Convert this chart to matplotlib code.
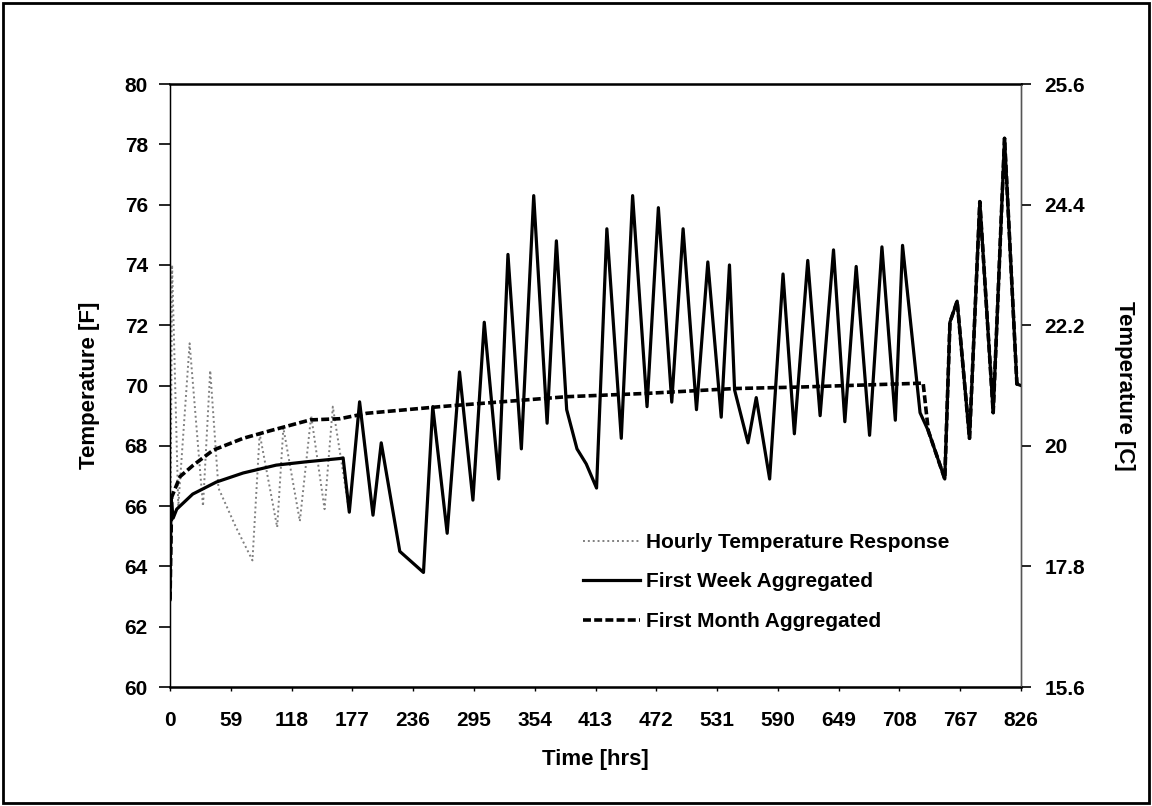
import matplotlib
matplotlib.use("Agg")
import matplotlib.pyplot as plt
from matplotlib.patches import Rectangle

plt.rcParams['font.family'] = ['Liberation Sans', 'DejaVu Sans']

# hourly response during the first week (hrs, degF)
first_week_t = [0, 2, 8, 19, 32, 39, 47, 64, 80, 87, 104, 110, 126, 137, 150, 158]
first_week_f = [62.9, 74.0, 66.0, 71.4, 66.0, 70.5, 66.6, 65.3, 64.2, 68.4, 65.3, 68.6, 65.5, 69.0, 65.9, 69.3]

# smooth first-week aggregated curve
week_t = [0, 1, 3, 6.5, 22, 45, 71, 103, 132, 165, 168]
week_f = [62.9, 66.3, 65.6, 65.9, 66.4, 66.8, 67.1, 67.36, 67.47, 67.58, 67.6]

# smooth first-month aggregated curve
month_t = [0, 1.6, 9.7, 22.6, 42, 71, 97, 136, 165, 191, 262, 385, 463, 547, 611, 731]
month_f = [62.9, 66.3, 66.98, 67.36, 67.86, 68.25, 68.5, 68.86, 68.9, 69.08, 69.3, 69.63, 69.74, 69.9, 69.95, 70.08]

# hourly response after the first week (shared by all curves once aggregation ends)
later_t = [174, 184, 197, 205, 223, 246, 255, 269, 281, 294, 305, 319, 328, 341, 353, 366,
           375, 385, 395, 404, 414, 424, 438, 449, 463, 474, 487, 498, 511, 522, 535, 543,
           548, 561, 569, 582, 595, 606, 619, 631, 644, 655, 666, 679, 691, 704, 711, 728,
           736, 752, 757, 764, 776, 786, 799, 810, 822, 826]
later_f = [65.8, 69.46, 65.7, 68.1, 64.5, 63.8, 69.3, 65.1, 70.45, 66.2, 72.1, 66.9, 74.35, 67.9, 76.3, 68.75,
           74.8, 69.2, 67.9, 67.4, 66.6, 75.2, 68.25, 76.3, 69.3, 75.9, 69.45, 75.2, 69.2, 74.1, 68.95, 74.0,
           69.85, 68.1, 69.6, 66.9, 73.7, 68.4, 74.15, 69.0, 74.5, 68.8, 73.95, 68.35, 74.6, 68.85, 74.65, 69.1,
           68.5, 66.9, 72.1, 72.8, 68.25, 76.1, 69.1, 78.2, 70.05, 70.0]

x_ticks = list(range(0, 827, 59))
f_ticks = list(range(60, 81, 2))
c_tick_f = [60, 64, 68, 72, 76, 80]
c_labels = ["15.6", "17.8", "20", "22.2", "24.4", "25.6"]

labels = ["Hourly Temperature Response", "First Week Aggregated", "First Month Aggregated"]


def to_c(f):
    return (f - 32) * 5 / 9


hourly_t = first_week_t + later_t
hourly_f = first_week_f + later_f
wk_t = week_t + later_t
wk_f = week_f + later_f
mo_t = month_t + [t for t in later_t if t >= 736]
mo_f = month_f + [f for t, f in zip(later_t, later_f) if t >= 736]

fig = plt.figure(figsize=(11.52, 8.06), dpi=100)
ax = fig.add_axes([0.1476, 0.1476, 0.7387, 0.7481])

ax.plot(hourly_t, hourly_f, color='#808080', lw=1.4, ls=(0, (1, 1.5)), label=labels[0], zorder=2)
ax.plot(wk_t, wk_f, color='black', lw=2.3, label=labels[1], zorder=3)
ax.plot(mo_t, mo_f, color='black', lw=2.6, ls=(0, (2.2, 0.9)), label=labels[2], zorder=4)

ax.set_xlim(0, 826)
ax.set_ylim(60, 80)
ax.set_xticks(x_ticks)
ax.set_yticks(f_ticks)
ax.tick_params(axis='x', direction='out', length=3, width=1, pad=14, labelsize=15)
ax.tick_params(axis='y', direction='out', length=8, width=1.2, pad=8, labelsize=15)
for t in ax.get_xticklabels() + ax.get_yticklabels():
    t.set_fontweight('bold')

ax.set_xlabel("Time [hrs]", fontsize=16, fontweight='bold', labelpad=14)
ax.set_ylabel("Temperature [F]", fontsize=16, fontweight='bold', labelpad=18)

for side, lw in [('top', 1.8), ('bottom', 1.8), ('left', 1.0), ('right', 1.0)]:
    ax.spines[side].set_linewidth(lw)
    ax.spines[side].set_color('black')

ax2 = ax.twinx()
ax2.set_ylim(to_c(60), to_c(80))
ax2.set_yticks([to_c(f) for f in c_tick_f])
ax2.set_yticklabels(c_labels, fontsize=15, fontweight='bold')
ax2.tick_params(axis='y', direction='out', length=7, width=1.2, pad=10)
ax2.set_ylabel("Temperature [C]", fontsize=16, fontweight='bold', rotation=270, labelpad=36)
ax2.spines['right'].set_color('#555555')

leg = ax.legend(loc='upper left', bbox_to_anchor=(583 / 1152, 1 - 533 / 806),
                bbox_transform=fig.transFigure, frameon=False, fontsize=15,
                handlelength=2.75, handletextpad=0.25, labelspacing=0.98,
                borderpad=0, borderaxespad=0)
for txt in leg.get_texts():
    txt.set_fontweight('bold')

fig.patches.append(Rectangle((0.003, 0.004), 0.994, 0.992, transform=fig.transFigure,
                             fill=False, edgecolor='black', lw=2))

fig.savefig("out.png", dpi=100, facecolor='white')
